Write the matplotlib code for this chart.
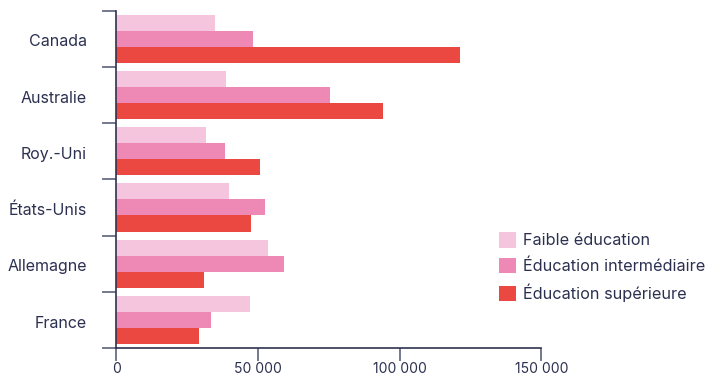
import numpy as np
import matplotlib
matplotlib.use("Agg")
import matplotlib.pyplot as plt
from matplotlib.ticker import FuncFormatter, FixedLocator

# revenus moyens par pays et niveau d'éducation
pays = ["Canada", "Australie", "Roy.-Uni", "États-Unis", "Allemagne", "France"]
faible = [34700, 38700, 31600, 39800, 53500, 47200]
intermediaire = [48200, 75400, 38400, 52500, 59200, 33400]
superieure = [121300, 94100, 50700, 47500, 30900, 29200]
series_labels = ["Faible éducation", "Éducation intermédiaire", "Éducation supérieure"]
x_ticks = [0, 50000, 100000, 150000]

colors = ["#F5C4DD", "#EE88B5", "#EA4841"]
text_color = "#2B3050"
axis_color = "#2E3350"
tick_color = "#5C617C"

plt.rcParams["font.family"] = ["Inter", "DejaVu Sans"]

fig = plt.figure(figsize=(7.09, 3.79), dpi=100)
ax = fig.add_axes([0.164, 0.0818, 0.5995, 0.89])

y = np.arange(len(pays))
h = 16 / 56
for i, (vals, lab) in enumerate(zip([faible, intermediaire, superieure], series_labels)):
    ax.barh(y + (i - 1) * h, vals, height=h, color=colors[i], label=lab, linewidth=0)

ax.set_xlim(0, 150000)
ax.set_ylim(len(pays) - 0.5, -0.5)

ax.xaxis.set_major_locator(FixedLocator(x_ticks))
ax.xaxis.set_major_formatter(FuncFormatter(lambda v, p: f"{int(v):,}".replace(",", " ")))

# séparateurs entre pays sur l'axe vertical, noms centrés
ax.yaxis.set_major_locator(FixedLocator(np.arange(-0.5, len(pays), 1.0)))
ax.yaxis.set_major_formatter(FuncFormatter(lambda v, p: ""))
ax.yaxis.set_minor_locator(FixedLocator(y + 0.03))
ax.set_yticklabels(pays, minor=True)
ax.tick_params(axis="y", which="minor", length=0, pad=21, labelsize=11.5, labelcolor=text_color)
ax.tick_params(axis="y", which="major", length=10, width=1.2, color=tick_color)
ax.tick_params(axis="x", length=9, width=1.2, color=tick_color, labelsize=10, labelcolor=text_color, pad=1)

for s in ["top", "right"]:
    ax.spines[s].set_visible(False)
for s in ["left", "bottom"]:
    ax.spines[s].set_color(axis_color)
    ax.spines[s].set_linewidth(1.2)

fig.legend(loc="upper left", bbox_to_anchor=(0.695, 0.405), frameon=False,
           fontsize=11.7, labelcolor=text_color, handlelength=1.0, handleheight=1.1,
           handletextpad=0.45, labelspacing=0.58, borderaxespad=0)

fig.savefig("out.png", dpi=100)
